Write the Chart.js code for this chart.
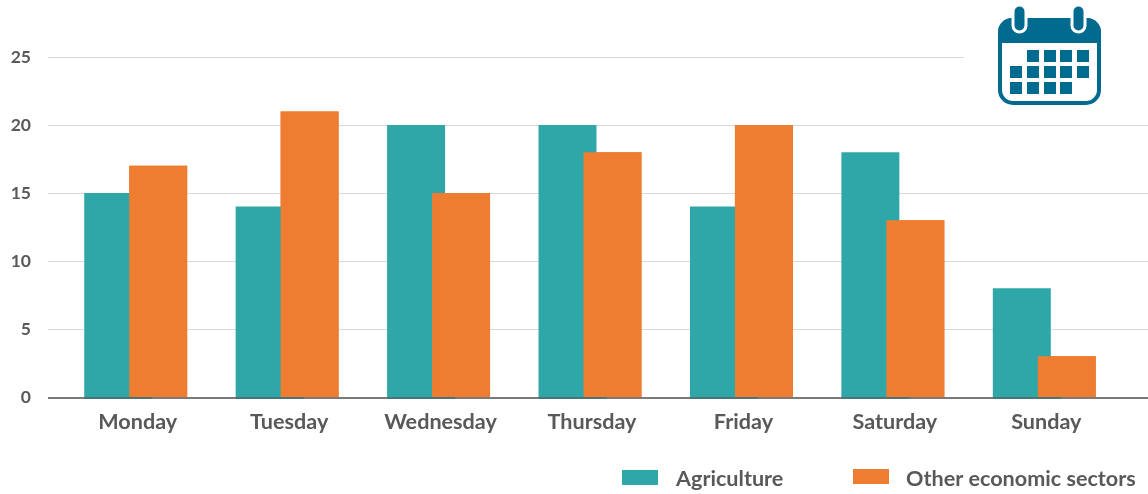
<!DOCTYPE html>
<html>
<head>
<meta charset="utf-8">
<script src="https://cdn.jsdelivr.net/npm/chart.js@4"></script>
<style>
    html, body { margin: 0; padding: 0; background: #fff; overflow: hidden; }
    #box { position: relative; width: 1148px; height: 494px; }
    #icone { position: absolute; left: 964px; top: 0; background: #fff; }
</style>
</head>
<body>
<div id="box">
    <canvas id="grafico" width="1148" height="494"></canvas>
    <svg id="icone" width="184" height="110" viewBox="964 0 184 110">
        <rect x="1000" y="20" width="99" height="83" rx="13" fill="#fff" stroke="#006b8f" stroke-width="4"/>
        <path d="M998 43V32a14 14 0 0 1 14-14h75a14 14 0 0 1 14 14v11z" fill="#006b8f"/>
        <rect x="1013" y="5" width="13" height="27" rx="6.5" fill="#006b8f" stroke="#fff" stroke-width="3"/>
        <rect x="1072" y="5" width="13" height="27" rx="6.5" fill="#006b8f" stroke="#fff" stroke-width="3"/>
        <g fill="#006b8f">
            <rect x="1027" y="50" width="12" height="12"/><rect x="1044" y="50" width="12" height="12"/><rect x="1060" y="50" width="12" height="12"/><rect x="1077" y="50" width="12" height="12"/>
            <rect x="1010" y="66" width="12" height="12"/><rect x="1027" y="66" width="12" height="12"/><rect x="1044" y="66" width="12" height="12"/><rect x="1060" y="66" width="12" height="12"/><rect x="1077" y="66" width="12" height="12"/>
            <rect x="1010" y="82" width="12" height="12"/><rect x="1027" y="82" width="12" height="12"/><rect x="1044" y="82" width="12" height="12"/><rect x="1060" y="82" width="12" height="12"/>
        </g>
    </svg>
</div>
<script>
const dias = ["Monday", "Tuesday", "Wednesday", "Thursday", "Friday", "Saturday", "Sunday"];
const agricultura = [15, 14, 20, 20, 14, 18, 8];
const outrosSetores = [17, 21, 15, 18, 20, 13, 3];
const ticksY = [0, 5, 10, 15, 20, 25];

const corTexto = "#595959";
const fonte = "Lato";

// Linhas de grade mais largas que a area do grafico, e barra laranja por cima da verde
const extras = {
    id: "extras",
    beforeDatasetsDraw(chart) {
        const ctx = chart.ctx;
        const y = chart.scales.y;
        ctx.save();
        ctx.strokeStyle = "#d9d9d9";
        ctx.lineWidth = 1;
        y.ticks.forEach(t => {
            const py = Math.round(y.getPixelForValue(t.value)) + 0.5;
            ctx.beginPath();
            ctx.moveTo(48, py);
            ctx.lineTo(1148, py);
            ctx.stroke();
        });
        ctx.restore();
    },
    afterDatasetsDraw(chart) {
        chart.getDatasetMeta(1).controller.draw();
        const ctx = chart.ctx;
        const py = Math.round(chart.scales.y.getPixelForValue(0));
        ctx.save();
        ctx.fillStyle = "#7a7a7a";
        ctx.fillRect(48, py, 1100, 2);
        // Filete escuro sob cada barra verde, como no original
        ctx.fillStyle = "#4c7476";
        chart.getDatasetMeta(0).data.forEach(b => {
            ctx.fillRect(b.x - b.width / 2, py, 68, 2);
        });
        ctx.restore();
    },
    afterDraw(chart) {
        // Legenda: a do Chart.js nao deixa ajustar o espaco entre caixa e texto
        const ctx = chart.ctx;
        const itens = [
            { ds: 0, x: 622, y: 470, tx: 676 },
            { ds: 1, x: 853, y: 469, tx: 906 }
        ];
        ctx.save();
        ctx.font = "700 21.6px " + fonte;
        ctx.textBaseline = "middle";
        itens.forEach(i => {
            const d = chart.data.datasets[i.ds];
            ctx.fillStyle = d.backgroundColor;
            ctx.fillRect(i.x, i.y, 36, 15);
            ctx.fillStyle = corTexto;
            ctx.fillText(d.label, i.tx, 479);
        });
        ctx.restore();
    }
};

new Chart(document.getElementById("grafico").getContext("2d"), {
    type: "bar",
    data: {
        labels: dias,
        datasets: [
            { label: "Agriculture", data: agricultura, backgroundColor: "#2fa6a8", categoryPercentage: 0.594, barPercentage: 1.289 },
            { label: "Other economic sectors", data: outrosSetores, backgroundColor: "#ee7d31", categoryPercentage: 0.594, barPercentage: 1.289 }
        ]
    },
    options: {
        responsive: false,
        animation: false,
        layout: { padding: { top: 57, right: 28, left: 0, bottom: 0 } },
        plugins: { legend: { display: false }, tooltip: { enabled: false } },
        scales: {
            x: {
                afterFit: s => { s.height = 97; },
                grid: { display: false },
                border: { display: false },
                ticks: { color: corTexto, font: { family: fonte, size: 21.6, weight: "700" }, padding: 4, maxRotation: 0, labelOffset: 2 }
            },
            y: {
                min: 0,
                max: 25,
                afterFit: s => { s.width = 60; },
                afterBuildTicks: s => { s.ticks = ticksY.map(v => ({ value: v })); },
                grid: { display: false },
                border: { display: false },
                ticks: { color: corTexto, font: { family: fonte, size: 17.5, weight: "700" }, padding: 21 }
            }
        }
    },
    plugins: [extras]
});
</script>
</body>
</html>
